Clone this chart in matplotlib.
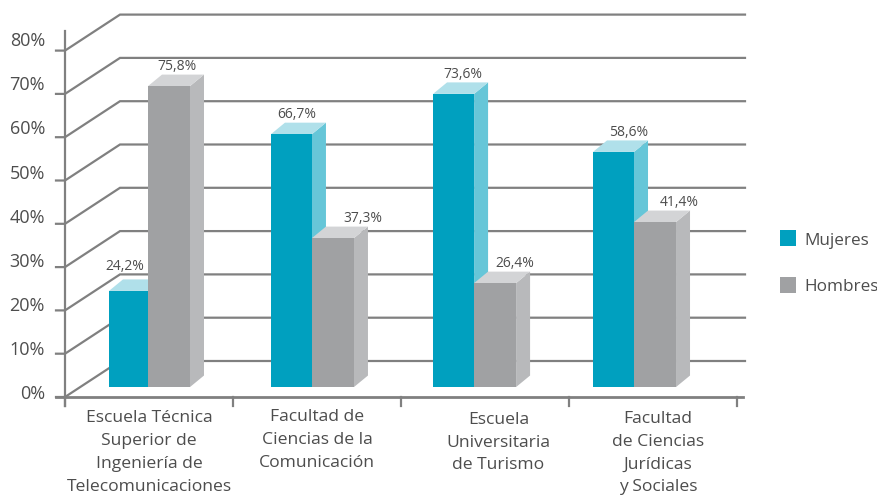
import matplotlib
matplotlib.use('Agg')
import matplotlib.pyplot as plt
from matplotlib.patches import Polygon, Rectangle

plt.rcParams['font.family'] = ['Open Sans', 'DejaVu Sans']

categorias = ["Escuela Técnica\nSuperior de\nIngeniería de\nTelecomunicaciones",
              "Facultad de\nCiencias de la\nComunicación",
              "Escuela\nUniversitaria\nde Turismo",
              "Facultad\nde Ciencias\nJurídicas\ny Sociales"]
etiquetas_m = ["24,2%", "66,7%", "73,6%", "58,6%"]
etiquetas_h = ["75,8%", "37,3%", "26,4%", "41,4%"]
# altura dibujada de cada barra, leida contra la escala del eje
altura_m = [22.2, 58.4, 67.7, 54.3]
altura_h = [69.5, 34.4, 24.0, 38.1]
ticks = [0, 10, 20, 30, 40, 50, 60, 70, 80]
series = ["Mujeres", "Hombres"]

gris = '#808080'
texto = '#4d4d4d'
azul = ['#00a0bf', '#b0e0ea', '#66c6d8']
plomo = ['#a0a1a3', '#d3d4d6', '#b8b9bb']

# 1 categoria = 168 px, 1% = 4.33 px
px = 1 / 168
py = 1 / 4.33

fig = plt.figure(figsize=(8.78, 4.97), dpi=100)
ax = fig.add_axes([0, 0, 1, 1])
ax.set_xlim(-65 * px, 813 * px)
ax.set_ylim(-100 * py, 397 * py)
ax.axis('off')

fondo_x = 55 * px
fondo_y = 36 * py

# paredes
for t in ticks:
    ax.plot([-9 * px, 0, fondo_x, 680 * px], [t, t, t + fondo_y, t + fondo_y],
            color=gris, lw=1.6, solid_joinstyle='miter', zorder=1)
ax.plot([0, 0], [-9 * py, 366 * py], color=gris, lw=1.6, zorder=2)
ax.plot([-9 * px, 678 * px], [0, 0], color=gris, lw=2, zorder=2)
for i in range(5):
    ax.plot([i, i], [-9 * py, 0], color=gris, lw=1.6, zorder=2)

# barras
juntas = [0.494, 1.47, 2.435, 3.387]
base = 2.3
ancho_m = [39 * px, 41 * px, 41 * px, 41 * px]
ancho_h = 42 * px
dx = 14 * px
dy = 11.5 * py


def barra(x, w, h, colores, z):
    ax.add_patch(Polygon([(x + w, base), (x + w + dx, base + dy),
                          (x + w + dx, base + h + dy), (x + w, base + h)],
                         fc=colores[2], ec='none', zorder=z))
    ax.add_patch(Polygon([(x, base + h), (x + dx, base + h + dy),
                          (x + w + dx, base + h + dy), (x + w, base + h)],
                         fc=colores[1], ec='none', zorder=z))
    ax.add_patch(Rectangle((x, base), w, h, fc=colores[0], ec='none', zorder=z + 0.5))


# posicion horizontal de las etiquetas de valor (no siguen el centro de la barra)
texto_m_x = [0.357, 1.381, 2.369, 3.357]
texto_h_x = [0.667, 1.774, 2.679, 3.655]
texto_m_up = [2.9, 1.9, 1.9, 1.9]

for i in range(4):
    x_m = juntas[i] - ancho_m[i]
    barra(x_m, ancho_m[i], altura_m[i], azul, 3)
    barra(juntas[i], ancho_h, altura_h[i], plomo, 4)
    ax.text(texto_m_x[i], base + altura_m[i] + dy + texto_m_up[i], etiquetas_m[i],
            color=texto, fontsize=10, ha='center', va='center', zorder=6)
    ax.text(texto_h_x[i], base + altura_h[i] + dy + 1.9, etiquetas_h[i],
            color=texto, fontsize=10, ha='center', va='center', zorder=6)

# textos de ejes: van un poco mas abiertos que las lineas
for t in ticks:
    ax.text(-20 * px, 0.7 + t * 1.018, str(t) + '%', color=texto, fontsize=13, ha='right', va='center')

centros_x = [0.5, 1.5, 2.58, 3.53]
tope_y = [-3.0, -2.8, -3.4, -3.2]
for i in range(4):
    ax.text(centros_x[i], tope_y[i], categorias[i], color=texto, fontsize=12.6,
            ha='center', va='top', linespacing=1.57)

# leyenda
for nombre, color, y in zip(series, [azul[0], plomo[0]], [36.7, 25.9]):
    ax.add_patch(Rectangle((715 * px, y - 8 * py), 16 * px, 16 * py, fc=color, ec='none'))
    ax.text(739 * px, y - 0.6, nombre, color=texto, fontsize=12.3, ha='left', va='center')

plt.savefig('out.png', dpi=100)
